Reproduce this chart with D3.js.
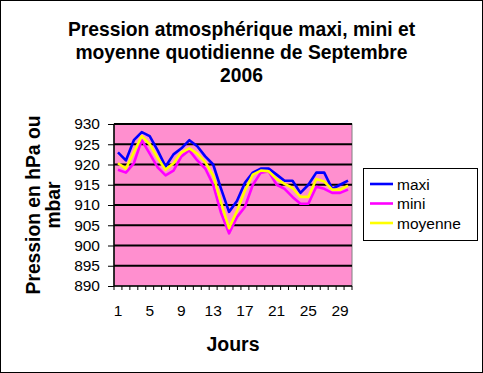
<!DOCTYPE html>
<html><head><meta charset="utf-8">
<script src="https://cdn.jsdelivr.net/npm/d3@7"></script>
<style>body{margin:0;background:#fff}svg{display:block}text{font-family:"Liberation Sans",Arial,sans-serif}</style>
</head><body><svg id="c" width="483" height="373"></svg>
<script>
const days = d3.range(1, 31);
const maxi = [923, 921, 926, 928, 927, 923.5, 919.5, 922.5, 924, 926, 924.5, 922, 920, 914, 908.3, 911, 915.5, 918, 919, 919, 917.5, 916, 916, 913, 915, 918, 918, 914, 915, 916];
const mini = [918.7, 918, 920.3, 926, 922.7, 919.3, 917.3, 918.5, 922, 923.5, 921, 919, 915, 908, 903, 907, 909.5, 915, 918, 918.3, 915, 914, 912, 910.3, 910.3, 914.5, 914, 913, 913, 913.8];
const moyenne = [920.3, 919, 923, 927, 925, 921.6, 918.7, 920.3, 923, 924, 922.7, 920.6, 917.3, 910.6, 904.3, 908.5, 913.5, 917.5, 918.5, 918.3, 916.4, 915.2, 914.2, 912, 912, 916.4, 915.8, 913.8, 913.8, 914.8];
const yTicks = [890, 895, 900, 905, 910, 915, 920, 925, 930];
const xLabels = [1, 5, 9, 13, 17, 21, 25, 29];
const titleLines = ["Pression atmosphérique maxi, mini et", "moyenne quotidienne de Septembre", "2006"];
const yTitle = ["Pression en hPa ou", "mbar"];
const series = [
  {name: "maxi", values: maxi, color: "#0000FF"},
  {name: "mini", values: mini, color: "#FF00FF"},
  {name: "moyenne", values: moyenne, color: "#FFFF00"}
];

const svg = d3.select("#c");
svg.append("rect").attr("x", 0.5).attr("y", 0.5).attr("width", 482).attr("height", 372).attr("fill", "#fff").attr("stroke", "#000");

const L = 114, R = 352, T = 124, B = 286;
const x = d3.scaleBand().domain(days).range([L, R]);
const y = d3.scaleLinear().domain([890, 930]).range([B, T]);

svg.append("rect").attr("x", L).attr("y", T).attr("width", R - L).attr("height", B - T).attr("fill", "#FF8FCF").attr("stroke", "#808080");

svg.append("g").selectAll("line").data(yTicks.filter(d => d > 890)).join("line")
  .attr("x1", L).attr("x2", R).attr("y1", d => y(d)).attr("y2", d => y(d))
  .attr("stroke", "#000").attr("stroke-width", 2);

// y axis
const ya = svg.append("g").attr("transform", `translate(${L},0)`)
  .call(d3.axisLeft(y).tickValues(yTicks).tickSize(6).tickPadding(8).tickFormat(d3.format("d")));
ya.select(".domain").attr("stroke", "#000").attr("stroke-width", 1.5).attr("d", `M0,${T}V${B}`);
ya.selectAll("text").attr("font-size", 15.5).attr("fill", "#000").style("font-family", '"Liberation Sans",Arial,sans-serif');

// x axis
const xa = svg.append("g").attr("transform", `translate(0,${B})`);
xa.append("line").attr("x1", L).attr("x2", R).attr("stroke", "#000").attr("stroke-width", 1.5);
xa.selectAll("line.t").data(d3.range(0, 31)).join("line").attr("class", "t")
  .attr("x1", i => L + i * x.step()).attr("x2", i => L + i * x.step())
  .attr("y1", 0).attr("y2", 4).attr("stroke", "#000");
xa.selectAll("text").data(xLabels).join("text")
  .attr("x", d => x(d) + x.bandwidth() / 2).attr("y", 30)
  .attr("text-anchor", "middle").attr("font-size", 15.5).text(d => d);

// lines
const line = d3.line().x((d, i) => x(days[i]) + x.bandwidth() / 2).y(d => y(d));
svg.append("g").selectAll("path").data(series).join("path")
  .attr("d", s => line(s.values)).attr("fill", "none")
  .attr("stroke", s => s.color).attr("stroke-width", 2.6).attr("stroke-linejoin", "round");

// title
svg.append("text").attr("text-anchor", "middle").attr("font-size", 19.3).attr("font-weight", "bold")
  .selectAll("tspan").data(titleLines).join("tspan")
  .attr("x", 241.5).attr("y", (d, i) => 35.5 + i * 23).text(d => d);

// y title
svg.append("text").attr("text-anchor", "middle").attr("font-size", 19.3).attr("font-weight", "bold")
  .attr("transform", "translate(0,205) rotate(-90)")
  .selectAll("tspan").data(yTitle).join("tspan")
  .attr("x", 0).attr("y", (d, i) => 40 + i * 20).text(d => d);

// x title
svg.append("text").attr("x", 233).attr("y", 351).attr("text-anchor", "middle")
  .attr("font-size", 19.5).attr("font-weight", "bold").text("Jours");

// legend
const lg = svg.append("g");
lg.append("rect").attr("x", 363.5).attr("y", 168.5).attr("width", 114).attr("height", 72)
  .attr("fill", "#fff").attr("stroke", "#000");
const rows = lg.selectAll("g").data(series).join("g")
  .attr("transform", (d, i) => `translate(0,${184 + i * 19.5})`);
rows.append("line").attr("x1", 370).attr("x2", 393).attr("stroke", d => d.color).attr("stroke-width", 2.6);
rows.append("text").attr("x", 397).attr("y", 5.5).attr("font-size", 15.5).text(d => d.name);
</script></body></html>
